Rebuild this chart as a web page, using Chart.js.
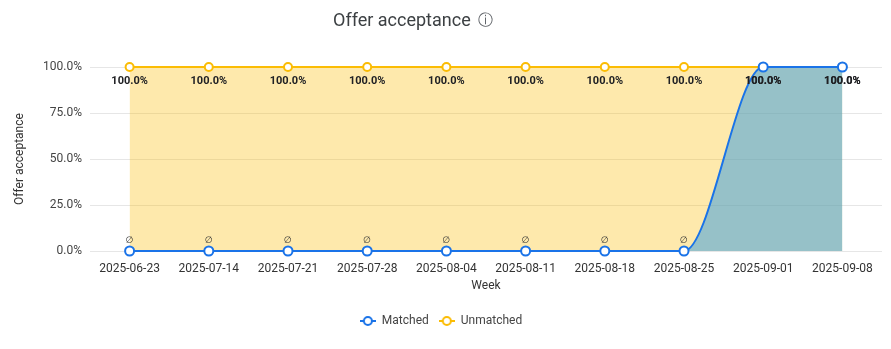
<!DOCTYPE html>
<html>
<head>
<meta charset="utf-8">
<script src="https://cdn.jsdelivr.net/npm/chart.js@4.4.1/dist/chart.umd.min.js"></script>
<style>
  html, body { margin: 0; padding: 0; background: #fff; }
  #wrap { position: relative; width: 891px; height: 349px; }
  #title { position: absolute; left: 333px; top: 9px; font-family: Roboto, "Noto Sans", sans-serif; font-size: 18px; color: #3c4043; white-space: nowrap; }
  #title .info { display: inline-block; margin-left: 7px; font-size: 15px; color: #5f6368; vertical-align: 1px; }
  canvas { position: absolute; left: 0; top: 0; }
</style>
</head>
<body>
<div id="wrap">
  <canvas id="c" width="891" height="349"></canvas>
  <div id="title">Offer acceptance<span class="info">ⓘ</span></div>
</div>
<script>
const weeks = ["2025-06-23","2025-07-14","2025-07-21","2025-07-28","2025-08-04","2025-08-11","2025-08-18","2025-08-25","2025-09-01","2025-09-08"];
const matched = [0,0,0,0,0,0,0,0,100,100];
const unmatched = [100,100,100,100,100,100,100,100,100,100];
const yTicks = [0,25,50,75,100];
const seriesNames = ["Matched","Unmatched"];

const BLUE = '#1a73e8';
const YELLOW = '#fbbc04';

function legendIcon(color) {
  const c = document.createElement('canvas');
  c.width = 16; c.height = 12;
  const x = c.getContext('2d');
  x.strokeStyle = color; x.lineWidth = 2;
  x.beginPath(); x.moveTo(0, 6); x.lineTo(16, 6); x.stroke();
  x.beginPath(); x.arc(8, 6, 4, 0, Math.PI * 2);
  x.fillStyle = '#fff'; x.fill(); x.stroke();
  return c;
}
const icons = [legendIcon(BLUE), legendIcon(YELLOW)];

const dataLabels = {
  id: 'dataLabels',
  afterDatasetsDraw(chart) {
    const ctx = chart.ctx;
    ctx.save();
    ctx.textAlign = 'center';
    chart.data.datasets.forEach((ds, di) => {
      const meta = chart.getDatasetMeta(di);
      meta.data.forEach((pt, i) => {
        const v = ds.data[i];
        if (v === null || v === undefined) return;
        if (v === 0) {
          ctx.font = '9px "DejaVu Sans", sans-serif';
          ctx.fillStyle = '#333';
          ctx.textBaseline = 'middle';
          ctx.fillText('∅', pt.x, pt.y - 10);
        } else {
          ctx.font = 'bold 11px Roboto, "Noto Sans", sans-serif';
          ctx.fillStyle = '#202124';
          ctx.textBaseline = 'middle';
          ctx.fillText(v.toFixed(1) + '%', pt.x, pt.y + 14);
        }
      });
    });
    ctx.restore();
  }
};

new Chart(document.getElementById('c'), {
  type: 'line',
  data: {
    labels: weeks,
    datasets: [
      {
        label: seriesNames[0],
        data: matched,
        borderColor: BLUE,
        backgroundColor: 'rgba(47,154,230,0.5)',
        fill: 'origin',
        borderWidth: 2,
        pointRadius: 4.5,
        pointBorderWidth: 2,
        pointBackgroundColor: '#fff',
        pointBorderColor: BLUE,
        cubicInterpolationMode: 'monotone',
        clip: false
      },
      {
        label: seriesNames[1],
        data: unmatched,
        borderColor: YELLOW,
        backgroundColor: 'rgba(251,188,4,0.33)',
        fill: 'origin',
        borderWidth: 2,
        pointRadius: 4,
        pointBorderWidth: 2,
        pointBackgroundColor: '#fff',
        pointBorderColor: YELLOW,
        cubicInterpolationMode: 'monotone',
        clip: false
      }
    ]
  },
  options: {
    responsive: false,
    animation: false,
    layout: { padding: { top: 67, right: 9, left: 0, bottom: 12 } },
    plugins: {
      title: { display: false },
      tooltip: { enabled: false },
      legend: {
        position: 'bottom',
        labels: {
          usePointStyle: true,
          pointStyleWidth: 16,
          boxHeight: 12,
          padding: 10,
          color: '#444',
          font: { family: 'Roboto, "Noto Sans", sans-serif', size: 12 },
          generateLabels(chart) {
            const items = Chart.defaults.plugins.legend.labels.generateLabels(chart);
            items.forEach((it, i) => { it.pointStyle = icons[i]; });
            return items;
          }
        }
      }
    },
    scales: {
      x: {
        offset: true,
        grid: { display: false, drawTicks: false },
        border: { display: false },
        ticks: {
          color: '#333',
          padding: 11,
          maxRotation: 0,
          autoSkip: false,
          font: { family: 'Roboto, "Noto Sans", sans-serif', size: 12 }
        },
        title: {
          display: true,
          text: 'Week',
          color: '#333',
          padding: { top: 0, bottom: 12 },
          font: { family: 'Roboto, "Noto Sans", sans-serif', size: 12 }
        },
        afterFit(s) { s.height = 54; }
      },
      y: {
        min: 0,
        max: 100,
        afterBuildTicks(s) { s.ticks = yTicks.map(v => ({ value: v })); },
        grid: { color: '#e6e6e6', drawTicks: false },
        border: { display: false },
        ticks: {
          color: '#444',
          padding: 8,
          font: { family: 'Roboto, "Noto Sans", sans-serif', size: 12 },
          callback: v => v.toFixed(1) + '%'
        },
        title: {
          display: true,
          text: 'Offer acceptance',
          color: '#333',
          padding: { top: 13, bottom: 0 },
          font: { family: 'Roboto, "Noto Sans", sans-serif', size: 12 }
        },
        afterFit(s) { s.width = 90; }
      }
    }
  },
  plugins: [dataLabels]
});
</script>
</body>
</html>
